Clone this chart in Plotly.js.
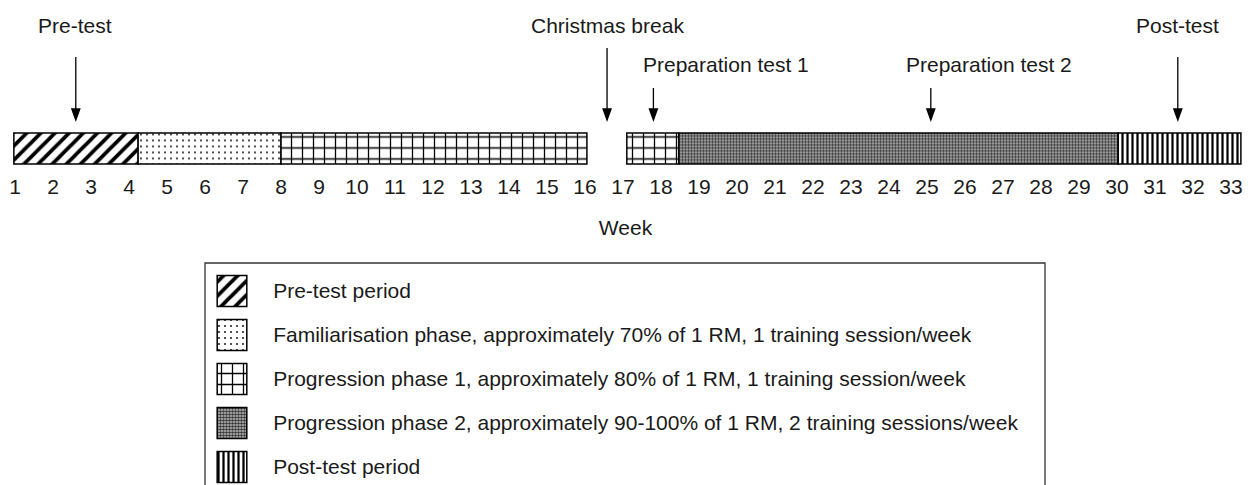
<!DOCTYPE html>
<html><head><meta charset="utf-8">
<script src="https://cdn.plot.ly/plotly-3.0.1.min.js"></script>
<style>html,body{margin:0;padding:0;background:#fff}</style>
</head><body><div id="chart" style="width:1251px;height:485px"></div>
<script>
// ---- data ----
const weeks = [1,2,3,4,5,6,7,8,9,10,11,12,13,14,15,16,17,18,19,20,21,22,23,24,25,26,27,28,29,30,31,32,33];
const phaseLabels = [
  'Pre-test period',
  'Familiarisation phase, approximately 70% of 1 RM, 1 training session/week',
  'Progression phase 1, approximately 80% of 1 RM, 1 training session/week',
  'Progression phase 2, approximately 90-100% of 1 RM, 2 training sessions/week',
  'Post-test period'
];
const segPhase = [0, 1, 2, 2, 3, 4];
const segStart = [0.97, 4.24, 8.0, 17.1, 18.47, 30.03];
const segEnd   = [4.24, 8.0, 16.05, 18.47, 30.03, 33.26];
const eventLabels = ['Pre-test', 'Christmas break', 'Preparation test 1', 'Preparation test 2', 'Post-test'];
const eventWeek = [2.6, 16.58, 17.8, 25.1, 31.6];
const eventLabelWeek = [2.58, 16.58, 19.71, 26.63, 31.58];
const eventRow = [0, 0, 1, 1, 0];

// ---- styles ----
const W = 1251, H = 485;
const px = p => p / W;
const py = p => 1 - p / H;
const FONT = 'Liberation Sans, Arial, sans-serif';
const TXT = '#1a1a1a';
const styles = [
  {shape: '/', size: 10, solidity: 0.38, fg: '#000', bg: '#fff'},
  {shape: '.', size: 6,  solidity: 0.07, fg: '#000', bg: '#fff'},
  {shape: '+', size: 11, solidity: 0.22, fg: '#000', bg: '#fff'},
  {shape: '.', size: 3,  solidity: 0.6,  fg: '#333', bg: '#c8c8c8'},
  {shape: '|', size: 5,  solidity: 0.45, fg: '#000', bg: '#fff'}
];
const rowY = [25, 65];           // label rows (px from top)
const tipY = 120;                // arrow tip (px from top)
const tailY = [57, 48, 88, 88, 57];

function patternFor(idx) {
  return {
    shape: idx.map(p => styles[p].shape),
    size: idx.map(p => styles[p].size),
    solidity: idx.map(p => styles[p].solidity),
    fgcolor: idx.map(p => styles[p].fg),
    bgcolor: idx.map(p => styles[p].bg),
    fillmode: 'replace'
  };
}

const mainTrace = {
  type: 'bar', orientation: 'h', xaxis: 'x', yaxis: 'y',
  y: segStart.map(() => 0),
  base: segStart,
  x: segEnd.map((e, i) => e - segStart[i]),
  width: 1,
  marker: {color: '#fff', line: {color: '#000', width: 1.5}, pattern: patternFor(segPhase)},
  hoverinfo: 'skip', showlegend: false
};

const legendIdx = phaseLabels.map((_, i) => i);
const legendTrace = {
  type: 'bar', orientation: 'h', xaxis: 'x2', yaxis: 'y2',
  y: phaseLabels,
  x: phaseLabels.map(() => 1),
  base: 0,
  width: 0.7,
  marker: {color: '#fff', line: {color: '#000', width: 1.5}, pattern: patternFor(legendIdx)},
  hoverinfo: 'skip', showlegend: false
};

const shapes = [];
eventWeek.forEach((w, i) => {
  const len = tipY - tailY[i];
  shapes.push({
    type: 'path', xref: 'x', yref: 'paper',
    xsizemode: 'pixel', ysizemode: 'pixel',
    xanchor: w, yanchor: py(tipY),
    path: `M0,0V${len}M-4,11H4L0,0Z`,
    line: {color: '#000', width: 1.3}, fillcolor: '#000'
  });
});
shapes.push({
  type: 'rect', xref: 'paper', yref: 'paper',
  x0: px(205), x1: px(1045), y0: py(263), y1: -0.2,
  line: {color: '#333', width: 1.3}, fillcolor: 'rgba(0,0,0,0)'
});

const annotations = eventLabels.map((t, i) => ({
  xref: 'x', yref: 'paper', x: eventLabelWeek[i], y: py(rowY[eventRow[i]]),
  text: t, showarrow: false, xanchor: 'center', yanchor: 'middle',
  font: {family: FONT, size: 21, color: TXT}
}));

const layout = {
  width: W, height: H,
  margin: {l: 0, r: 0, t: 0, b: 0},
  paper_bgcolor: '#fff', plot_bgcolor: 'rgba(0,0,0,0)',
  font: {family: FONT, size: 21, color: TXT},
  barmode: 'overlay',
  showlegend: false,
  xaxis: {
    domain: [0, 1], range: [0.6053, 33.526], anchor: 'y',
    tickmode: 'array', tickvals: weeks, ticktext: weeks.map(String),
    ticks: 'outside', ticklen: 2, tickcolor: 'rgba(0,0,0,0)',
    showline: false, showgrid: false, zeroline: false,
    tickfont: {family: FONT, size: 21, color: TXT},
    title: {text: 'Week', font: {family: FONT, size: 21, color: TXT}, standoff: 23},
    fixedrange: true
  },
  yaxis: {domain: [py(165.55), py(131.45)], range: [-0.55, 0.55], visible: false, fixedrange: true},
  xaxis2: {domain: [px(216), px(248)], range: [-0.04, 1.04], anchor: 'y2', visible: false, fixedrange: true},
  yaxis2: {
    domain: [0, py(269)], range: [4.409, -0.5], anchor: 'x2', side: 'right',
    type: 'category', categoryorder: 'array', categoryarray: phaseLabels,
    ticks: 'outside', ticklen: 20, tickcolor: 'rgba(0,0,0,0)',
    showline: false, showgrid: false, zeroline: false,
    tickfont: {family: FONT, size: 21, color: TXT}, fixedrange: true
  },
  shapes: shapes,
  annotations: annotations
};

Plotly.newPlot('chart', [mainTrace, legendTrace], layout, {displayModeBar: false, staticPlot: true});
</script>
</body></html>
